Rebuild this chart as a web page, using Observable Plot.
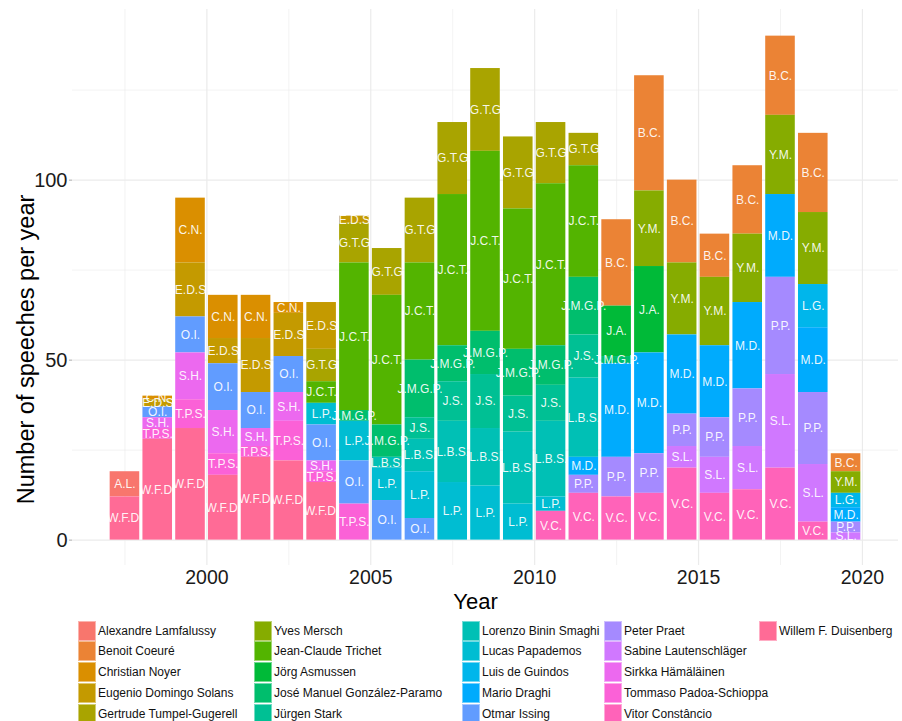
<!DOCTYPE html>
<html>
<head>
<meta charset="utf-8">
<script src="https://cdn.jsdelivr.net/npm/d3@7"></script>
<script src="https://cdn.jsdelivr.net/npm/@observablehq/plot@0.6"></script>
<style>
  html, body { margin: 0; padding: 0; background: #fff; }
  #wrap { width: 902px; font-family: "Liberation Sans", Arial, Helvetica, sans-serif; }
  #legend { position: relative; width: 902px; height: 106px; }
  .key { position: absolute; width: 18px; height: 20px; box-sizing: border-box; }
  .lab { position: absolute; font-size: 12px; line-height: 20px; color: #111; white-space: nowrap; }
</style>
</head>
<body>
<div id="wrap"><div id="chart"></div><div id="legend"></div></div>
<script>
// ---- data ----
const years = [1997,1998,1999,2000,2001,2002,2003,2004,2005,2006,2007,2008,2009,2010,2011,2012,2013,2014,2015,2016,2017,2018,2019];

const speakers = [
  "Alexandre Lamfalussy","Benoit Coeuré","Christian Noyer","Eugenio Domingo Solans","Gertrude Tumpel-Gugerell",
  "Yves Mersch","Jean-Claude Trichet","Jörg Asmussen","José Manuel González-Paramo","Jürgen Stark",
  "Lorenzo Binin Smaghi","Lucas Papademos","Luis de Guindos","Mario Draghi","Otmar Issing",
  "Peter Praet","Sabine Lautenschläger","Sirkka Hämäläinen","Tommaso Padoa-Schioppa","Vitor Constâncio",
  "Willem F. Duisenberg"
];

const initials = [
  "A.L.","B.C.","C.N.","E.D.S","G.T.G",
  "Y.M.","J.C.T.","J.A.","J.M.G.P.","J.S.",
  "L.B.S.","L.P.","L.G.","M.D.","O.I.",
  "P.P.","S.L.","S.H.","T.P.S.","V.C.",
  "W.F.D."
];

// speeches per year, one array per speaker (1997 ... 2019)
const lamfalussy  = [7,0,0,0,0,0,0,0,0,0,0,0,0,0,0,0,0,0,0,0,0,0,0];
const coeure      = [0,0,0,0,0,0,0,0,0,0,0,0,0,0,0,24,32,23,12,19,22,22,5];
const noyer       = [0,1,18,12,12,3,0,0,0,0,0,0,0,0,0,0,0,0,0,0,0,0,0];
const solans      = [0,2,15,7,15,12,13,2,0,0,0,0,0,0,0,0,0,0,0,0,0,0,0];
const tumpel      = [0,0,0,0,0,0,9,11,13,18,20,23,20,17,9,0,0,0,0,0,0,0,0];
const mersch      = [0,0,0,0,0,0,0,0,0,0,0,0,0,0,0,0,21,20,19,19,22,20,6];
const trichet     = [0,0,0,0,0,0,6,41,36,27,42,50,39,45,31,0,0,0,0,0,0,0,0];
const asmussen    = [0,0,0,0,0,0,0,0,0,0,0,0,0,0,0,14,24,0,0,0,0,0,0];
const paramo      = [0,0,0,0,0,0,0,3,9,16,10,12,13,11,16,2,0,0,0,0,0,0,0];
const stark       = [0,0,0,0,0,0,0,0,0,6,11,15,10,10,12,0,0,0,0,0,0,0,0];
const smaghi      = [0,0,0,0,0,0,0,0,3,9,17,16,20,21,22,0,0,0,0,0,0,0,0];
const papademos   = [0,0,0,0,0,0,6,11,9,13,16,15,10,4,0,0,0,0,0,0,0,0,0];
const guindos     = [0,0,0,0,0,0,0,0,0,0,0,0,0,0,0,0,0,0,0,0,0,12,4];
const draghi      = [0,0,0,0,0,0,0,0,0,0,0,0,0,0,5,26,28,22,20,24,23,18,4];
const issing      = [0,3,10,13,10,10,10,12,11,6,0,0,0,0,0,0,0,0,0,0,0,0,0];
const praet       = [0,0,0,0,0,0,0,0,0,0,0,0,0,0,5,11,11,9,11,16,27,20,3];
const lautensch   = [0,0,0,0,0,0,0,0,0,0,0,0,0,0,0,0,0,6,10,12,26,16,2];
const hamalainen  = [0,3,13,12,5,8,3,0,0,0,0,0,0,0,0,0,0,0,0,0,0,0,0];
const padoa       = [0,3,8,6,3,11,3,10,0,0,0,0,0,0,0,0,0,0,0,0,0,0,0];
const constancio  = [0,0,0,0,0,0,0,0,0,0,0,0,0,8,13,12,13,20,13,14,20,5,0];
const duisenberg  = [12,28,31,18,23,22,16,0,0,0,0,0,0,0,0,0,0,0,0,0,0,0,0];

const series = [lamfalussy, coeure, noyer, solans, tumpel, mersch, trichet, asmussen, paramo, stark,
  smaghi, papademos, guindos, draghi, issing, praet, lautensch, hamalainen, padoa, constancio, duisenberg];

const xTicks = [2000, 2005, 2010, 2015, 2020];
const xMinor = [1997.5, 2002.5, 2007.5, 2012.5, 2017.5];
const yTicks = [0, 50, 100];
const yMinor = [25, 75, 125];

// ---- table ----
const rows = [];
series.forEach((vals, i) => vals.forEach((n, j) => {
  if (n > 0) rows.push({year: years[j], name: speakers[i], abbr: initials[i], n});
}));

// ggplot-like hue palette (polar LUV, l=65, c=100)
function hclLuv(h, c, l) {
  const WY = 100, Wu = 0.1978398, Wv = 0.4683363;
  const hr = h * Math.PI / 180;
  const U = c * Math.cos(hr), V = c * Math.sin(hr);
  const Y = l > 7.999592 ? WY * Math.pow((l + 16) / 116, 3) : WY * l / 903.3;
  const u = U / (13 * l) + Wu, v = V / (13 * l) + Wv;
  const X = 9 * Y * u / (4 * v);
  const Z = -X / 3 - 5 * Y + 3 * Y / v;
  const g = t => { t = t > 0.00304 ? 1.055 * Math.pow(t, 1 / 2.4) - 0.055 : 12.92 * t; return Math.round(255 * Math.max(0, Math.min(1, t))); };
  const r = g((3.240479 * X - 1.537150 * Y - 0.498535 * Z) / WY);
  const gg = g((-0.969256 * X + 1.875992 * Y + 0.041556 * Z) / WY);
  const b = g((0.055648 * X - 0.204043 * Y + 1.057311 * Z) / WY);
  return "#" + [r, gg, b].map(x => x.toString(16).padStart(2, "0")).join("");
}
const colors = speakers.map((_, i) => hclLuv(15 + i * 360 / speakers.length, 100, 65));
const stackOrder = speakers.slice().reverse();

const font = '"Liberation Sans", Arial, Helvetica, sans-serif';

const chart = Plot.plot({
  width: 902,
  height: 615,
  marginLeft: 72,
  marginRight: 4,
  marginTop: 9,
  marginBottom: 50,
  style: {fontFamily: font, background: "#fff"},
  x: {domain: [1995.9, 2021.1]},
  y: {domain: [-7.05, 147.4]},
  color: {domain: speakers, range: colors},
  marks: [
    Plot.gridX(xMinor, {stroke: "#ebebeb", strokeOpacity: 1, strokeWidth: 0.6}),
    Plot.gridX(xTicks, {stroke: "#ebebeb", strokeOpacity: 1, strokeWidth: 1.2}),
    Plot.gridY(yMinor, {stroke: "#ebebeb", strokeOpacity: 1, strokeWidth: 0.6}),
    Plot.gridY(yTicks, {stroke: "#ebebeb", strokeOpacity: 1, strokeWidth: 1.2}),
    Plot.rectY(rows, {x: "year", interval: 1, y: "n", fill: "name", order: stackOrder,
      insetLeft: 1.6, insetRight: 1.6}),
    Plot.text(rows, Plot.stackY({x: d => d.year + 0.5, y: "n", z: "name", order: stackOrder,
      text: "abbr", fill: "white", fillOpacity: 0.92, fontSize: 12})),
    Plot.axisX({ticks: xTicks, tickFormat: d => String(d), tickSize: 0, tickPadding: 5,
      fontSize: 19.5, fill: "#1a1a1a", label: null}),
    Plot.axisY({ticks: yTicks, tickSize: 3, tickPadding: 2, fontSize: 20,
      fill: "#1a1a1a", stroke: "#aaa", label: null}),
    Plot.text(["Year"], {frameAnchor: "bottom", dx: -10, dy: 43, fontSize: 22, fill: "#000"}),
    Plot.text(["Number of speeches per year"], {frameAnchor: "left", textAnchor: "middle",
      rotate: -90, dx: -46, dy: 62, fontSize: 23.5, fill: "#000"})
  ]
});
document.getElementById("chart").appendChild(chart);

// ---- legend (column-major, 5 rows) ----
const legend = document.getElementById("legend");
const colX = [78, 254, 462, 604, 759];
speakers.forEach((name, i) => {
  const col = Math.floor(i / 5), row = i % 5;
  const top = 5.5 + row * 20.75;
  const key = document.createElement("div");
  key.className = "key";
  key.style.left = colX[col] + "px";
  key.style.top = top + "px";
  key.style.background = colors[i];
  key.style.border = "1px solid " + d3.interpolateRgb(colors[i], "#fff")(0.45);
  legend.appendChild(key);
  const lab = document.createElement("div");
  lab.className = "lab";
  lab.style.left = (colX[col] + 20) + "px";
  lab.style.top = top + "px";
  lab.textContent = name;
  legend.appendChild(lab);
});
</script>
</body>
</html>
